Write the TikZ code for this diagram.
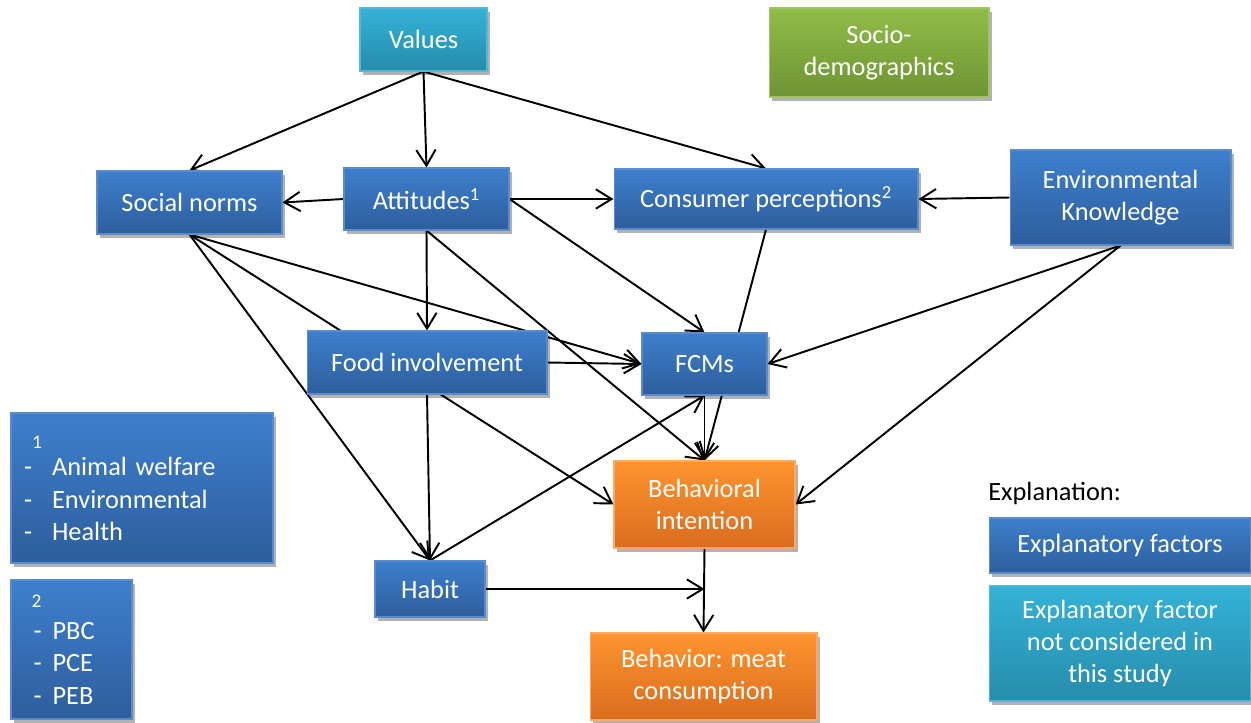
\documentclass[tikz,border=0pt]{standalone}
\usepackage{fontspec}
\setmainfont{Carlito}
\usetikzlibrary{arrows.meta,shadows}
\pgfdeclarelayer{background}
\pgfsetlayers{background,main}
\definecolor{bluetop}{RGB}{62,127,205}
\definecolor{bluebot}{RGB}{45,94,156}
\definecolor{blueedge}{RGB}{90,140,205}
\definecolor{cyantop}{RGB}{52,178,214}
\definecolor{cyanbot}{RGB}{38,140,172}
\definecolor{cyanedge}{RGB}{80,185,215}
\definecolor{greentop}{RGB}{145,188,72}
\definecolor{greenbot}{RGB}{110,148,52}
\definecolor{greenedge}{RGB}{160,195,100}
\definecolor{orangetop}{RGB}{253,148,46}
\definecolor{orangebot}{RGB}{218,108,30}
\definecolor{orangeedge}{RGB}{250,170,100}
\begin{document}
\begin{tikzpicture}[x=0.02cm,y=-0.02cm,
  font=\fontsize{15}{18.3}\selectfont,
  box/.style={rectangle, line width=0.6pt, text=white, align=center, inner sep=0pt,
    drop shadow={shadow xshift=1.8pt, shadow yshift=-2.2pt, opacity=0.3, fill=black}},
  bluebox/.style={box, top color=bluetop, bottom color=bluebot, draw=blueedge},
  cyanbox/.style={box, top color=cyantop, bottom color=cyanbot, draw=cyanedge},
  greenbox/.style={box, top color=greentop, bottom color=greenbot, draw=greenedge},
  orangebox/.style={box, top color=orangetop, bottom color=orangebot, draw=orangeedge},
  link/.style={draw=black, line width=1.1pt, -{Straight Barb[length=9pt,width=11pt,line width=1.1pt]}}
]
\useasboundingbox (0,0) rectangle (1251,723);

% main boxes
\node[cyanbox, minimum width=2.54cm, minimum height=1.26cm] (values) at (423.5,39.5) {Values};
\node[greenbox, minimum width=4.4cm, minimum height=1.78cm] (socio) at (879,52.5) {Socio-\\demographics};
\node[bluebox, minimum width=3.7cm, minimum height=1.26cm] (social) at (189.5,202.5) {Social norms};
\node[bluebox, minimum width=3.3cm, minimum height=1.24cm] (att) at (426.5,199) {Attitudes\textsuperscript{1}};
\node[bluebox, minimum width=6.08cm, minimum height=1.2cm] (cons) at (766,199) {Consumer perceptions\textsuperscript{2}};
\node[bluebox, minimum width=4.42cm, minimum height=1.9cm] (env) at (1120.5,197.5) {Environmental\\Knowledge};
\node[bluebox, minimum width=4.8cm, minimum height=1.26cm] (food) at (427,362.5) {Food involvement};
\node[bluebox, minimum width=2.5cm, minimum height=1.24cm] (fcm) at (704.5,364) {FCMs};
\node[orangebox, minimum width=3.62cm, minimum height=1.74cm] (bi) at (704.5,504.5) {Behavioral\\intention};
\node[bluebox, minimum width=2.2cm, minimum height=1.12cm] (habit) at (430,589) {Habit};
\node[orangebox, minimum width=4.54cm, minimum height=1.74cm] (beh) at (703.5,676.5) {Behavior: meat\\consumption};

% footnote boxes
\node[bluebox, minimum width=5.24cm, minimum height=3cm, text width=4.72cm, align=left] (l1) at (142,488)
  {\hspace*{0.16cm}{\fontsize{11}{18.3}\selectfont 1}\\[-2.5pt]
   -\hspace{0.40cm}Animal welfare\\
   -\hspace{0.40cm}Environmental\\
   -\hspace{0.40cm}Health};
\node[bluebox, minimum width=2.42cm, minimum height=2.78cm, text width=1.52cm, align=left] (l2) at (71.5,649.5)
  {\hspace*{-0.04cm}{\fontsize{11}{17.8}\selectfont 2}\\
   -\hspace{0.22cm}PBC\\
   -\hspace{0.22cm}PCE\\
   -\hspace{0.22cm}PEB};

% legend
\node[anchor=west, inner sep=0pt] (expl) at (988,493) {Explanation:};
\node[bluebox, minimum width=5.24cm, minimum height=1.1cm] (lgblue) at (1120,545.5) {Explanatory factors};
\node[cyanbox, minimum width=5.24cm, minimum height=2.3cm] (lgcyan) at (1120,643.5) {Explanatory factor\\not considered in\\this study};

\coordinate (join) at (bi.south |- habit.east);

\begin{pgfonlayer}{background}
\draw[link] (values.south) -- (social.north);
\draw[link] (values.south) -- (att.north);
\draw[link] (values.south) -- (cons.north);
\draw[link] (att.west) -- (social.east);
\draw[link] (att.east) -- (cons.west);
\draw[link] (env.west) -- (cons.east);
\draw[link] (att.east) -- (fcm.north);
\draw[link] (att.south) -- (food.north);
\draw[link] (att.south) -- (bi.north);
\draw[link] (social.south) -- (fcm.west);
\draw[link] (social.south) -- (bi.west);
\draw[link] (social.south) -- (habit.north);
\draw[link] (food.south) -- (habit.north);
\draw[link] (habit.north) -- (fcm.south);
\draw[link] (fcm.south) -- (bi.north);
\draw[link] (cons.south) -- (bi.north);
\draw[link] (env.south) -- (fcm.east);
\draw[link] (env.south) -- (bi.east);
\draw[link] (food.east) -- (fcm.west);
\draw[link] (bi.south) -- (beh.north);
\draw[link] (habit.east) -- (join);
\end{pgfonlayer}
\end{tikzpicture}
\end{document}
